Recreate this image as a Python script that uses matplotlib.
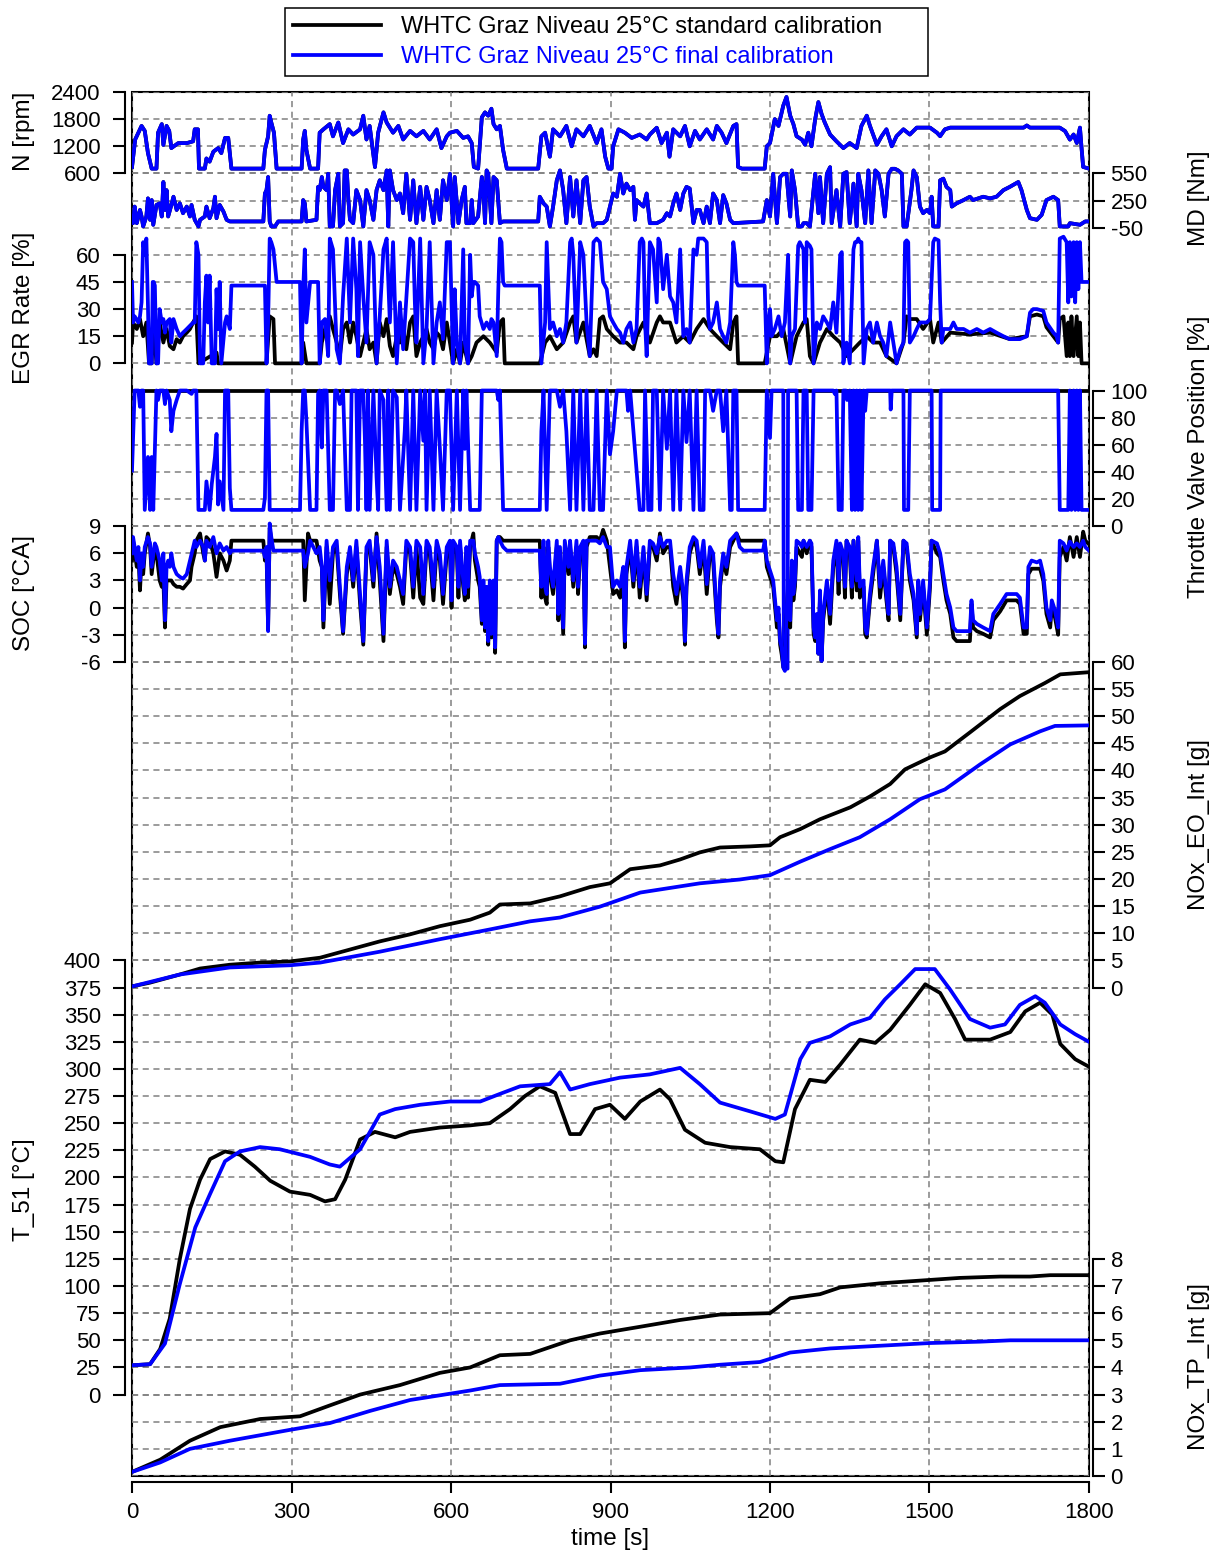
import numpy as np
import matplotlib
matplotlib.use('Agg')
import matplotlib.pyplot as plt
from matplotlib.lines import Line2D
from matplotlib.patches import Rectangle

plt.rcParams['font.family'] = ['Liberation Sans', 'DejaVu Sans']
plt.rcParams['axes.unicode_minus'] = False

# ---- data: (time [s], value) ----
# engine speed (both calibrations practically identical)
n_rpm = [(0,740),(6,1350),(18,1650),(24,1540),(30,1050),(37,706),(46,706),(49,1500),(56,1690),(59,1230),(65,1650),(70,1540),(74,1160),(87,1270),(103,1270),(115,1310),(118,1575),(124,1575),(126,706),(137,706),(140,930),(146,860),(153,1080),(162,1160),(168,1050),(175,1385),(181,1385),(187,706),(247,706),(250,1120),(256,1420),(259,1875),(262,1725),(267,1500),(272,706),(319,706),(322,1350),(325,1540),(328,1120),(335,706),(350,706),(353,1500),(360,1575),(372,1690),(378,1420),(388,1725),(397,1270),(407,1575),(416,1460),(429,1575),(435,1875),(441,1350),(447,1650),(457,740),(463,1500),(473,1950),(479,1725),(491,1500),(501,1650),(510,1350),(523,1540),(535,1420),(548,1540),(560,1350),(573,1575),(582,1160),(592,1420),
         (598,1500),(611,1540),(623,1385),(632,1420),(639,1270),(643,743),(651,706),(658,1840),(664,1950),(670,1876),(676,2030),(680,1690),(686,1575),(692,1650),(698,1120),(705,706),(764,706),(770,1420),(777,1500),(786,970),(792,1575),(805,1420),(817,1650),(827,1200),(836,1575),(849,1420),(861,1650),(874,1270),(883,1575),(890,970),(896,706),(902,706),(905,1200),(915,1575),(927,1500),(940,1385),(955,1460),(968,1350),(974,1460),(987,1610),(996,1270),(1006,1500),(1011,970),(1018,1575),(1031,1420),(1040,1650),(1049,1200),(1059,1540),(1068,1350),(1081,1575),(1093,1350),(1100,1650),(1109,1500),(1118,1270),(1131,1650),(1137,1690),(1140,743),(1147,706),(1190,706),(1194,1200),
         (1200,1272),(1209,1800),(1216,1650),(1225,2100),(1231,2290),(1238,1876),(1244,1690),(1250,1423),(1260,1347),(1266,1234),(1272,1500),(1278,1200),(1285,1800),(1291,2177),(1297,1914),(1303,1725),(1313,1460),(1325,1310),(1338,1160),(1350,1272),(1363,1160),(1372,1650),(1382,1876),(1388,1650),(1401,1234),(1410,1423),(1419,1575),(1429,1200),(1438,1423),(1451,1575),(1463,1460),(1476,1612),(1501,1612),(1514,1500),(1520,1423),(1529,1575),(1539,1612),(1677,1612),(1683,1660),(1689,1612),(1745,1612),(1755,1536),(1764,1347),(1771,1460),(1777,1272),(1783,1612),(1786,1160),(1789,743),(1800,706)]

md_nm = [(0,74),(2,0),(5,183),(9,0),(15,146),(18,74),(21,-36),(27,74),(30,274),(34,37),(37,255),(40,-18),(46,201),(52,219),(56,74),(59,455),(62,146),(65,365),(68,74),(74,201),(78,292),(84,146),(90,219),(96,110),(103,183),(109,74),(112,201),(118,37),(125,-36),(128,37),(137,74),(140,183),(146,55),(153,165),(156,292),(159,55),(165,201),(172,128),(178,37),(184,19),(247,19),(250,328),(253,365),(256,510),(259,19),(262,-36),(269,-36),(275,19),(319,19),(322,255),(325,219),(328,19),(347,37),(350,401),(353,365),(357,510),(360,401),(366,365),(369,546),(372,-36),(378,-36),(382,365),(388,546),(391,-36),(397,0),(400,583),(404,583),(407,255),(410,37),(416,0),(422,365),(429,255),(435,-36),(441,365),(447,255),(454,37),(460,365),(466,474),(473,365),(479,583),(482,-36),(485,583),(491,365),(498,255),(504,328),(510,110),(516,546),(523,37),(529,474),(535,0),(542,401),(548,37),(554,401),(560,255),(567,0),(573,365),(579,37),(585,474),(592,255),
         (598,546),(604,-36),(607,510),(614,0),(620,255),(626,401),(629,0),(636,0),(639,255),(642,0),(651,74),(658,510),(661,365),(664,0),(667,583),(670,546),(676,0),(680,510),(686,474),(692,0),(698,19),(705,19),(764,19),(767,292),(774,219),(780,183),(786,-36),(792,183),(799,474),(805,583),(811,365),(817,0),(824,510),(830,74),(836,474),(843,0),(849,474),(855,510),(861,183),(868,-36),(874,0),(886,0),(893,37),(899,183),(905,328),(912,292),(918,546),(924,328),(930,437),(937,365),(943,401),(946,37),(949,255),(955,219),(962,183),(968,328),(974,0),(987,0),(999,37),(1006,110),(1012,74),(1018,219),(1024,328),(1031,146),(1037,328),(1043,401),(1049,383),(1056,0),(1062,146),(1068,146),(1075,0),(1081,183),(1087,0),(1093,328),(1100,255),(1106,0),(1112,310),(1118,219),(1125,37),(1131,0),(1187,19),(1194,255),
         (1200,74),(1206,546),(1213,0),(1219,510),(1225,546),(1231,546),(1238,74),(1241,583),(1247,365),(1253,-36),(1260,-36),(1263,0),(1269,0),(1275,-36),(1282,365),(1285,546),(1291,110),(1294,510),(1300,0),(1307,546),(1313,619),(1316,0),(1325,365),(1332,-36),(1338,546),(1344,565),(1350,0),(1357,437),(1363,-36),(1366,546),(1372,365),(1379,0),(1385,583),(1391,0),(1398,583),(1404,546),(1410,365),(1416,74),(1423,546),(1429,601),(1435,601),(1441,583),(1448,546),(1451,-36),(1457,-36),(1466,365),(1470,583),(1476,510),(1482,183),(1488,110),(1495,146),(1501,110),(1504,292),(1507,-36),(1517,-36),(1520,474),(1526,492),(1532,401),(1539,365),(1542,183),(1551,219),(1564,255),(1576,292),(1582,255),(1601,292),(1614,274),(1626,292),(1639,365),(1651,401),(1667,455),(1673,365),(1683,146),(1689,55),(1702,37),(1711,92),(1720,255),(1733,292),(1742,255),(1745,-36),(1761,-36),(1764,0),(1783,-18),(1793,19),(1800,19)]

egr_std = [(0,11.5),(2,22.6),(9,19),(15,24.5),(21,15),(27,22.6),(32,0),(37,0),(40,22.6),(46,0),(52,22.6),(59,11.5),(65,19),(71,9.6),(78,7.8),(84,13.4),(90,11.5),(96,15),(103,17),(109,19),(115,22.6),(121,26),(125,0),(159,6),(162,0),(253,0),(259,26),(266,24.5),(269,0),(319,0),(322,11.5),(328,0),(353,0),(357,11.5),(366,22.6),(372,26),(378,19),(385,11.5),(391,4),(397,19),(404,22.6),(410,11.5),(416,22.6),(422,15),(429,4),(435,11.5),(441,19),(447,7.8),(454,11.5),(460,0),(466,22.6),(473,15),(479,24.5),(485,9.6),(491,4),(498,15),(504,11.5),(510,19),(516,7.8),(523,22.6),(529,26),(535,4),(542,11.5),(548,15),(554,19),(560,11.5),(567,7.8),(573,17),(579,15),(585,7.8),(592,22.6),
           (598,11.5),(604,0),(611,7.8),(617,0),(623,11.5),(632,0),(639,4),(648,11.5),(661,15),(673,11.5),(686,6),(692,22.6),(698,24.5),(701,0),(767,0),(777,11.5),(786,15),(799,7.8),(811,11.5),(824,22.6),(830,26),(836,11.5),(849,22.6),(861,4),(868,7.8),(874,4),(880,24.5),(886,26),(893,19),(905,15),(918,11.5),(930,11.5),(943,7.8),(949,15),(962,22.6),(974,11.5),(987,22.6),(993,26),(999,22.6),(1012,22.6),(1024,11.5),(1037,15),(1049,11.5),(1062,19),(1075,24.5),(1087,19),(1100,15),(1112,11.5),(1125,7.8),(1131,22.6),(1137,26),(1140,0),(1190,0),
           (1200,15),(1213,15),(1225,19),(1238,0),(1250,15),(1263,22.6),(1269,24.5),(1275,4),(1282,0),(1294,11.5),(1307,19),(1319,15),(1332,11.5),(1344,4),(1357,7.8),(1369,11.5),(1382,15),(1394,11.5),(1407,11.5),(1419,4),(1438,0),(1451,11.5),(1457,26),(1463,24.5),(1476,24.5),(1488,19),(1501,24.5),(1507,11.5),(1517,22.6),(1523,11.5),(1539,17),(1576,16),(1614,17),(1651,13.4),(1683,15),(1689,26),(1702,27),(1714,26),(1720,20),(1733,15),(1742,11.5),(1745,24.5),(1752,26),(1758,4),(1761,22.6),(1764,4),(1767,26),(1771,4),(1777,26),(1780,4),(1783,22.6),(1786,0),(1800,0)]

egr_fin = [(0,45),(2,22.6),(5,26),(12,22.6),(15,26),(18,33.7),(21,67),(24,60),(27,69),(30,32),(32,0),(37,0),(39,45),(41,45),(43,43),(46,0),(49,0),(52,30),(56,22.6),(59,24.5),(62,17),(65,22.6),(71,24.5),(74,11.5),(78,24.5),(84,19),(90,15),(96,17),(103,19),(109,20.8),(115,22.6),(118,22.6),(121,67),(125,60),(128,0),(134,0),(137,33.7),(140,48.5),(143,22.6),(146,48.5),(150,0),(156,0),(159,41),(162,19),(165,45),(168,0),(175,22.6),(178,26),(181,22.6),(184,19),(187,43),(250,43),(253,0),(256,22.6),(259,69),(262,67),(266,63),(272,45),(316,45),(319,0),(322,41),(325,63),(328,22.6),(335,45),(350,45),(353,0),(357,22.6),(363,24.5),(369,4),(372,69),(378,63),(385,7.8),(391,0),(397,37),(404,69),(410,22.6),(416,69),(422,41),(425,4),(429,67),(435,37),(441,11.5),(447,67),(454,60),(460,0),(466,26),(473,63),(479,69),(485,22.6),(491,67),(498,0),(504,33.7),(510,7.8),(523,69),(529,67),(532,33.7),(535,11.5),(542,69),(548,0),(554,19),(560,67),(567,0),(573,22.6),(579,33.7),(585,13.4),(592,67),
           (598,67),(604,0),(607,41),(611,11.5),(617,0),(623,63),(626,11.5),(632,0),(636,60),(639,37),(642,45),(645,45),(651,43),(654,26),(661,19),(667,22.6),(673,19),(676,24.5),(680,22.6),(686,4),(689,41),(692,69),(695,67),(698,45),(701,43),(767,43),(770,0),(777,22.6),(780,67),(786,19),(792,22.6),(799,15),(805,19),(811,11.5),(817,22.6),(824,67),(827,69),(830,60),(836,11.5),(843,67),(849,60),(855,22.6),(861,4),(868,67),(874,69),(880,67),(886,45),(893,41),(899,26),(905,22.6),(912,19),(918,17),(924,11.5),(930,19),(937,22.6),(943,11.5),(949,19),(955,67),(959,69),(962,67),(965,22.6),(968,4),(974,67),(980,63),(987,33.7),(990,69),(993,67),(999,41),(1006,60),(1012,37),(1018,33.7),(1024,22.6),(1031,63),(1037,15),(1043,19),(1049,11.5),(1056,63),(1062,60),(1065,69),(1075,69),(1081,67),(1084,26),(1087,19),(1093,22.6),(1100,33.7),(1106,19),(1112,15),(1118,11.5),(1125,22.6),(1131,67),(1134,60),(1137,45),(1140,43),(1190,43),(1194,0),(1197,22.6),
           (1200,30),(1203,15),(1209,19),(1216,26),(1222,15),(1228,22.6),(1234,60),(1238,0),(1241,15),(1247,19),(1253,65),(1256,67),(1263,63),(1266,22.6),(1269,67),(1275,65),(1278,63),(1282,0),(1288,22.6),(1294,19),(1300,26),(1307,22.6),(1313,19),(1319,33.7),(1325,17),(1332,60),(1335,61.5),(1338,0),(1344,11.5),(1350,0),(1357,63),(1360,67),(1363,67),(1366,69),(1369,67),(1372,67),(1376,0),(1382,19),(1388,22.6),(1394,11.5),(1401,22.6),(1407,15),(1413,11.5),(1419,4),(1426,22.6),(1432,11.5),(1438,0),(1445,7.8),(1451,11.5),(1454,67),(1457,68),(1460,67),(1463,11.5),(1470,15),(1476,19),(1482,22.6),(1488,22.6),(1495,22.6),(1501,24.5),(1507,67),(1510,69),(1517,68),(1520,33.7),(1523,11.5),(1526,19),(1539,19),(1545,22.6),(1551,19),(1564,19),(1576,17),(1589,19),(1601,17),(1614,19),(1626,17),(1639,15),(1651,13.4),(1670,13.4),(1683,15),(1689,28),(1695,30),(1702,30),(1714,29),(1720,22.6),(1733,17),(1739,15),(1742,11.5),(1745,69),(1752,70),(1758,67),(1761,33.7),(1764,67),(1767,37),(1771,67),(1774,33.7),(1777,67),(1780,41),(1783,67),(1786,45),(1800,45)]

thr_std = [(0,100),(1800,100)]
thr_fin = [(0,41),(5,100),(12,100),(15,88),(18,100),(21,100),(24,12),(30,51),(34,12),(37,51),(40,12),(46,100),(49,93),(52,100),(59,100),(62,90),(65,100),(71,93),(74,70),(78,85),(84,93),(90,100),(103,100),(112,97.5),(115,100),(121,100),(125,12),(137,12),(140,33),(146,12),(150,31),(156,51),(159,68),(162,16),(165,33),(172,12),(175,100),(181,100),(184,28),(187,12),(247,12),(250,21),(253,100),(256,100),(259,12),(316,12),(319,70),(322,100),(325,100),(328,78),(335,12),(347,12),(350,97.5),(353,100),(357,58),(360,100),(366,100),(372,12),(378,12),(382,100),(385,100),(391,90),(397,100),(404,12),(410,12),(413,100),(422,100),(425,12),(429,100),(435,100),(438,65),(441,12),(444,100),(447,12),(454,100),(460,36),(463,12),(466,100),(473,93),(479,12),(482,100),(485,12),(491,100),(498,95),(504,12),(510,51),(513,70),(516,100),(523,12),(529,100),(535,12),(542,100),(548,63),(551,100),(554,12),(560,100),(567,12),(573,100),(579,58),(585,12),(592,100),
           (598,100),(604,12),(611,100),(617,12),(623,100),(626,57),(629,100),(636,12),(654,12),(658,100),(686,100),(689,93),(692,100),(698,12),(767,12),(770,70),(774,100),(780,12),(786,100),(799,100),(805,88),(811,100),(817,70),(824,12),(830,100),(836,12),(843,100),(849,12),(855,100),(861,12),(868,12),(874,100),(880,12),(886,12),(893,100),(899,53),(905,70),(912,100),(930,100),(933,85),(937,100),(955,12),(962,12),(965,100),(971,12),(977,12),(980,100),(987,100),(993,12),(999,100),(1006,57),(1012,100),(1018,12),(1024,100),(1031,12),(1037,100),(1043,62),(1049,100),(1056,12),(1062,100),(1068,12),(1075,12),(1078,100),(1087,100),(1093,85),(1100,100),(1106,100),(1112,70),(1118,100),(1125,12),(1128,12),(1131,100),(1137,100),(1140,12),(1190,12),(1194,100),
           (1200,65),(1203,100),(1225,100),(1226,-105),(1233,-105),(1234,100),(1250,100),(1253,12),(1260,12),(1263,100),(1269,100),(1272,12),(1278,12),(1282,100),(1319,100),(1322,97.5),(1325,100),(1329,12),(1335,12),(1338,100),(1343,100),(1345,93),(1350,100),(1354,12),(1357,100),(1360,12),(1363,100),(1366,12),(1369,100),(1372,12),(1376,100),(1379,85),(1382,100),(1426,100),(1427,86),(1429,100),(1451,100),(1452,12),(1460,12),(1463,100),(1504,100),(1505,12),(1520,12),(1521,100),(1742,100),(1745,12),(1761,12),(1764,100),(1767,12),(1771,100),(1774,12),(1777,100),(1780,12),(1783,100),(1786,12),(1800,12)]

# SOC: (time, final calibration, standard calibration)
soc = [(0,6.0,5.2),(2,7.8,7.4),(9,5.2,4.5),(12,6.7,6.0),(15,3.0,1.9),(18,6.0,5.2),(21,4.5,3.7),(24,6.7,6.0),(30,7.8,8.2),(34,7.1,6.7),(37,4.5,3.7),(43,7.1,6.7),(46,6.7,6.0),(52,5.2,3.0),(56,3.0,2.3),(59,6.0,3.0),(62,-1.4,-2.2),(65,4.5,3.0),(68,5.2,3.0),(71,4.5,3.0),(74,6.0,3.0),(78,4.5,2.6),(84,3.7,2.3),(90,3.4,2.3),(96,3.2,2.1),(103,3.7,2.6),(109,5.2,3.0),(112,6.0,4.5),(118,7.4,6.0),(121,6.7,7.4),(128,7.4,8.2),(134,6.7,6.0),(137,5.2,5.2),(140,7.4,7.8),(146,6.7,7.4),(153,7.8,6.0),(159,6.0,3.4),(165,7.1,6.0),(172,6.3,5.2),(178,6.7,4.1),(184,6.0,5.2),(187,6.3,7.4),(247,6.3,7.4),(250,5.6,5.2),(253,6.7,6.0),(256,-2.6,-2.2),(259,9.3,8.8),(262,7.8,7.4),(266,6.3,7.4),(322,6.3,7.4),(325,4.5,0.8),(331,6.0,8.2),(335,7.4,7.4),(347,6.0,7.4),(353,6.7,5.2),(357,4.5,4.5),(360,-1.4,-2.2),(366,7.4,6.7),(372,3.0,0.4),(378,6.7,6.0),(385,7.4,6.7),(391,2.3,1.5),(397,-2.6,-2.9),(404,4.5,3.7),(410,6.7,6.0),(416,3.0,2.3),(422,7.4,6.7),(429,1.5,0.4),(435,-3.7,-4.1),(441,6.7,6.0),(447,7.4,6.7),(454,3.0,2.3),(460,7.8,8.2),(466,4.5,3.0),(473,-2.9,-3.7),(479,7.4,6.7),(485,2.3,1.5),(491,5.2,4.5),(498,4.5,3.7),(504,3.0,2.3),(510,1.5,0.4),(516,7.4,6.7),(523,6.7,6.0),(529,2.3,1.1),(535,7.4,6.7),(542,6.7,1.1),(548,1.5,0.4),(554,7.4,6.7),(560,6.7,6.0),(567,2.3,0.8),(573,7.4,6.7),(579,6.0,5.2),(585,1.5,0.4),(592,6.7,6.0),
       (598,7.4,6.7),(601,0.8,0.0),(604,7.4,6.7),(611,6.7,6.0),(614,2.3,1.1),(617,7.4,6.7),(623,3.0,2.3),(626,1.5,0.8),(629,6.7,6.0),(632,2.3,1.1),(636,7.4,6.7),(642,7.4,8.2),(645,6.0,5.2),(651,4.5,3.0),(654,3.4,2.3),(658,-1.4,-1.8),(661,3.0,2.3),(664,-2.2,-2.6),(667,2.3,1.5),(670,-3.7,-4.1),(673,3.0,2.3),(676,-2.9,-3.3),(680,3.0,2.3),(683,-4.4,-5.0),(686,7.4,7.4),(689,7.8,7.8),(692,7.4,7.8),(698,6.7,7.4),(705,6.3,7.4),(767,6.3,7.4),(770,2.3,1.1),(774,7.4,6.7),(777,2.3,1.1),(780,1.5,0.4),(783,7.4,6.7),(786,4.5,3.7),(792,2.3,1.5),(799,7.4,6.7),(802,-0.7,-1.4),(805,6.7,6.0),(811,-2.2,-2.9),(814,7.4,6.7),(821,4.5,3.7),(824,7.4,6.7),(830,3.0,2.3),(836,7.4,6.7),(839,2.3,1.5),(843,6.7,6.0),(849,7.4,6.7),(852,-4.0,-4.4),(855,7.4,6.7),(861,7.4,7.8),(874,7.4,7.8),(880,7.1,7.4),(886,7.8,8.6),(893,6.7,7.4),(899,6.7,4.5),(905,2.3,1.5),(912,3.0,1.9),(918,2.3,1.1),(924,4.5,3.7),(927,-3.7,-4.4),(930,4.5,3.7),(937,7.4,6.7),(943,3.0,2.3),(949,7.4,6.7),(955,2.3,1.1),(962,6.7,6.0),(968,1.5,0.8),(974,7.4,6.7),(980,7.1,6.7),(987,6.0,5.2),(993,7.8,8.2),(999,6.7,6.0),(1006,7.4,6.7),(1012,7.4,6.7),(1018,3.7,2.3),(1024,1.5,0.4),(1031,4.5,3.7),(1037,1.5,0.8),(1040,-3.7,-4.1),(1043,3.0,2.3),(1049,6.7,6.0),(1056,7.8,7.4),(1062,7.4,6.7),(1068,4.5,3.7),(1075,7.4,6.7),(1081,2.6,1.5),(1087,6.7,6.0),(1093,6.0,5.2),(1100,-0.7,-1.4),(1103,-2.9,-3.3),(1106,3.0,2.3),(1112,6.0,5.2),(1118,4.5,3.7),(1125,7.4,6.7),(1131,7.8,7.4),(1137,8.2,8.2),(1143,6.7,7.4),(1150,6.3,7.4),(1187,6.3,7.4),(1190,7.4,7.4),(1194,5.2,4.5),
       (1206,3.0,2.3),(1213,-1.4,-2.2),(1216,0.0,-0.7),(1219,-3.7,-4.1),(1222,-4.4,-5.2),(1225,-6.6,-6.6),(1228,-7.0,-6.6),(1231,-0.7,-1.4),(1234,3.0,2.3),(1238,-1.4,-2.2),(1241,5.2,4.5),(1244,1.5,0.8),(1247,3.0,2.3),(1250,7.4,6.7),(1256,7.1,6.0),(1260,6.7,5.6),(1263,7.4,7.4),(1269,6.7,6.0),(1275,7.4,7.4),(1278,7.1,6.7),(1282,-2.2,-2.9),(1285,-3.3,-3.7),(1288,-0.7,-1.4),(1291,-5.1,-5.1),(1294,1.9,1.1),(1297,-5.9,-5.9),(1300,-0.7,-1.4),(1307,3.0,2.3),(1313,-0.7,-1.8),(1319,5.2,4.5),(1325,7.4,6.7),(1329,3.0,1.5),(1332,7.1,6.7),(1338,6.0,5.2),(1341,2.3,1.1),(1344,7.4,7.4),(1350,6.7,6.0),(1354,2.3,1.1),(1357,7.4,7.4),(1363,3.0,1.9),(1366,7.8,7.4),(1369,2.3,1.1),(1376,3.0,2.3),(1379,-2.2,-2.9),(1382,-2.9,-3.3),(1388,1.5,0.8),(1394,4.5,3.7),(1401,7.4,7.4),(1407,2.3,1.1),(1413,5.2,4.5),(1419,1.5,0.8),(1423,-0.7,-1.4),(1426,7.4,7.4),(1432,7.1,6.7),(1438,4.5,3.7),(1445,-0.7,-1.4),(1451,7.4,7.4),(1457,7.1,6.7),(1463,3.7,3.0),(1470,1.5,0.8),(1476,-2.9,-3.3),(1479,3.0,2.3),(1482,-0.7,-1.4),(1488,3.0,2.3),(1495,-2.2,-3.0),(1501,3.0,2.3),(1504,7.4,7.4),(1514,7.1,6.0),(1520,6.0,5.6),(1526,3.7,3.0),(1532,1.5,0.8),(1539,0.0,-0.7),(1545,-2.2,-3.3),(1551,-2.6,-3.7),(1564,-2.6,-3.7),(1576,-2.6,-3.7),(1579,0.8,0.4),(1582,-1.4,-2.2),(1589,-1.8,-2.6),(1601,-2.2,-2.9),(1614,-2.6,-3.3),(1620,-0.7,-1.4),(1633,0.4,-0.4),(1645,1.5,0.8),(1664,1.5,0.8),(1670,1.1,0.4),(1677,-2.2,-2.9),(1683,-2.2,-2.9),(1686,4.5,3.7),(1692,5.2,4.3),(1702,5.0,4.3),(1708,5.2,4.3),(1714,3.7,3.0),(1720,0.0,-0.7),(1727,-1.4,-2.2),(1730,0.8,0.0),(1736,-0.3,-1.1),(1742,-2.2,-3.0),(1745,7.4,5.6),(1752,7.1,6.7),(1758,6.3,5.2),(1764,7.3,7.8),(1771,6.7,5.6),(1777,7.1,7.8),(1783,6.7,5.6),(1789,7.4,8.4),(1793,6.7,7.4),(1800,6.3,7.0)]

eo_std = [(0,0.2),(34,0.9),(90,2.4),(128,3.5),(184,4.2),(241,4.6),(297,4.8),(354,5.5),(410,7.0),(466,8.5),(523,9.8),(579,11.3),(636,12.5),(673,13.8),(692,15.3),(749,15.5),(805,16.8),(861,18.5),(899,19.2),(937,21.8),(993,22.5),(1031,23.6),(1068,24.9),(1106,25.8),(1162,26.0),(1200,26.2),(1219,27.7),(1257,29.2),(1294,31.0),(1351,33.2),(1388,35.2),(1426,37.5),(1454,40.2),(1501,42.4),(1529,43.5),(1576,47.0),(1633,51.3),(1670,53.7),(1717,56.1),(1746,57.7),(1800,58.1)]
eo_fin = [(0,0.2),(90,2.4),(184,3.7),(297,4.1),(354,4.6),(466,6.6),(579,8.9),(673,10.7),(749,12.2),(805,12.9),(880,14.9),(956,17.5),(1068,19.2),(1143,19.9),(1200,20.7),(1257,23.2),(1313,25.5),(1369,27.7),(1426,31.0),(1482,34.7),(1529,36.5),(1595,41.1),(1652,44.8),(1708,47.2),(1736,48.2),(1800,48.3)]

t51_std = [(0,27),(34,28),(53,42),(71,70),(90,125),(109,171),(128,198),(147,217),(175,224),(203,221),(231,210),(260,197),(297,187),(335,184),(363,178),(382,180),(401,198),(429,235),(457,242),(495,237),(523,242),(579,246),(636,248),(673,250),(711,263),(739,275),(767,284),(796,278),(824,240),(843,240),(871,263),(899,267),(927,254),(956,270),(993,281),(1012,272),(1040,244),(1078,232),(1125,228),(1181,226),(1210,215),(1225,214),(1247,263),(1275,290),(1304,288),(1332,304),(1369,327),(1398,324),(1426,336),(1463,359),(1492,378),(1520,370),(1548,346),(1567,327),(1614,327),(1652,334),(1680,353),(1708,361),(1731,350),(1746,323),(1774,309),(1800,302)]
t51_fin = [(0,27),(34,28),(62,47),(90,102),(119,154),(147,185),(175,215),(203,224),(241,228),(278,226),(335,219),(372,212),(391,210),(429,226),(466,258),(495,263),(542,267),(598,270),(655,270),(692,277),(730,284),(786,286),(805,297),(824,281),(861,286),(918,292),(974,295),(1031,301),(1068,286),(1106,269),(1162,261),(1210,254),(1228,258),(1257,309),(1275,324),(1313,330),(1351,341),(1388,347),(1416,364),(1445,378),(1473,392),(1510,392),(1539,373),(1576,346),(1614,338),(1642,341),(1670,359),(1699,367),(1717,361),(1746,341),(1774,332),(1800,325)]

tp_std = [(0,0.15),(53,0.6),(109,1.3),(166,1.8),(241,2.1),(316,2.2),(372,2.6),(429,3.0),(504,3.35),(579,3.8),(636,4.0),(692,4.45),(749,4.5),(824,5.0),(880,5.25),(956,5.5),(1031,5.75),(1106,5.95),(1200,6.0),(1238,6.55),(1294,6.7),(1332,6.95),(1407,7.1),(1482,7.2),(1557,7.3),(1633,7.35),(1689,7.35),(1727,7.4),(1800,7.4)]
tp_fin = [(0,0.15),(53,0.5),(109,1.0),(184,1.3),(297,1.7),(372,1.95),(448,2.4),(523,2.8),(636,3.15),(692,3.35),(805,3.4),(880,3.7),(956,3.9),(1050,4.0),(1106,4.1),(1181,4.2),(1238,4.55),(1313,4.7),(1407,4.8),(1501,4.9),(1595,4.95),(1652,5.0),(1800,5.0)]

labels = ['WHTC Graz Niveau 25°C standard calibration',
          'WHTC Graz Niveau 25°C final calibration']

# ---- layout: plot box in pixels, all tick rows sit on a 51-row grid ----
W, H = 1219, 1551
L, T, R, B = 132, 92, 1089, 1476
ROW = (B - T) / 51
rect = [L / W, 1 - B / H, (R - L) / W, (B - T) / H]
BLUE = (0, 0, 1)
LW = 2.7
FS = 16
LFS = 17.5
GRID = dict(color='0.5', linestyle=(0, (4, 3)), linewidth=1.1)

fig = plt.figure(figsize=(W / 100, H / 100), dpi=100)

base = fig.add_axes(rect)
base.set_zorder(0)
base.set_xlim(0, 1800)
base.set_ylim(0, 1)
base.set_yticks([])
for s in ('top', 'left', 'right'):
    base.spines[s].set_visible(False)
base.add_patch(Rectangle((0, 0), 1, 1, transform=base.transAxes, fill=False,
                         lw=1.5, clip_on=False))
base.spines['bottom'].set_position(('outward', 4.5))
base.spines['bottom'].set_linewidth(1.5)
base.set_xticks(np.arange(0, 1801, 300))
base.tick_params(axis='x', length=8, width=1.5, pad=6, labelsize=FS)
base.set_xlabel('time [s]', fontsize=LFS, labelpad=4)
base.grid(axis='x', **GRID)


def band(side, ticks, k_lo, k_hi, label, label_y):
    # lowest tick sits on grid row k_lo, highest on row k_hi (row 0 = top)
    y0, y1 = T + k_lo * ROW, T + k_hi * ROW
    v0, v1 = ticks[0], ticks[-1]
    s = (v1 - v0) / (y0 - y1)
    ylim = (v0 - (B - y0) * s, v1 + (y1 - T) * s)
    sa = fig.add_axes(rect)
    sa.set_zorder(1)
    sa.patch.set_visible(False)
    sa.set_xlim(0, 1800)
    sa.set_ylim(*ylim)
    for sp in sa.spines.values():
        sp.set_visible(False)
    sp = sa.spines[side]
    sp.set_visible(True)
    sp.set_linewidth(1.5)
    sp.set_bounds(v0, v1)
    sp.set_position(('outward', 5 if side == 'left' else 3))
    sa.yaxis.set_ticks_position(side)
    sa.yaxis.set_label_position(side)
    sa.set_yticks(ticks)
    sa.tick_params(axis='y', length=8.5, width=1.5,
                   pad=9 if side == 'left' else 4, labelsize=FS)
    sa.tick_params(axis='x', bottom=False, labelbottom=False)
    sa.grid(axis='y', **GRID)
    sa.set_ylabel(label, fontsize=LFS)
    xl = (35 - L) / (R - L) if side == 'left' else (1188 - L) / (R - L)
    sa.yaxis.set_label_coords(xl, (B - label_y) / (B - T))

    da = fig.add_axes(rect)
    da.set_zorder(2)
    da.set_xlim(0, 1800)
    da.set_ylim(*ylim)
    da.set_axis_off()
    return da


def draw(ax, series, color):
    t, v = np.array(series, dtype=float).T
    ax.plot(t, v, color=color, lw=LW)


ax_n = band('left', [600, 1200, 1800, 2400], 3, 0, 'N [rpm]', 131)
ax_md = band('right', [-50, 250, 550], 5, 3, 'MD [Nm]', 198)
ax_egr = band('left', [0, 15, 30, 45, 60], 10, 6, 'EGR Rate [%]', 308)
ax_thr = band('right', [0, 20, 40, 60, 80, 100], 16, 11,
              'Throttle Valve Position [%]', 457)
ax_soc = band('left', [-6, -3, 0, 3, 6, 9], 21, 16, 'SOC [°CA]', 593)
ax_eo = band('right', list(range(0, 61, 5)), 33, 21, 'NOx_EO_Int [g]', 825)
ax_t51 = band('left', list(range(0, 401, 25)), 48, 32, 'T_51 [°C]', 1190)
ax_tp = band('right', list(range(0, 9)), 51, 43, 'NOx_TP_Int [g]', 1367)

draw(ax_n, n_rpm, 'k')
draw(ax_n, n_rpm, BLUE)
draw(ax_md, md_nm, 'k')
draw(ax_md, md_nm, BLUE)
draw(ax_egr, egr_std, 'k')
draw(ax_egr, egr_fin, BLUE)
draw(ax_thr, thr_std, 'k')
draw(ax_thr, thr_fin, BLUE)
soc_arr = np.array(soc, dtype=float)
ax_soc.plot(soc_arr[:, 0], soc_arr[:, 2], color='k', lw=LW)
ax_soc.plot(soc_arr[:, 0], soc_arr[:, 1], color=BLUE, lw=LW)
draw(ax_eo, eo_std, 'k')
draw(ax_eo, eo_fin, BLUE)
draw(ax_t51, t51_std, 'k')
draw(ax_t51, t51_fin, BLUE)
draw(ax_tp, tp_std, 'k')
draw(ax_tp, tp_fin, BLUE)

handles = [Line2D([], [], color='k', lw=LW), Line2D([], [], color=BLUE, lw=LW)]
leg = fig.legend(handles, labels, loc='upper left',
                 bbox_to_anchor=(285 / W, 1 - 74 / H, 643 / W, 66 / H),
                 mode='expand', borderaxespad=0, handlelength=3.73,
                 handletextpad=0.85, borderpad=0.33, labelspacing=0.36,
                 fancybox=False, edgecolor='k', framealpha=1, fontsize=17,
                 labelcolor=['k', BLUE])
leg.get_frame().set_linewidth(1.1)

fig.savefig('out.png', dpi=100)
